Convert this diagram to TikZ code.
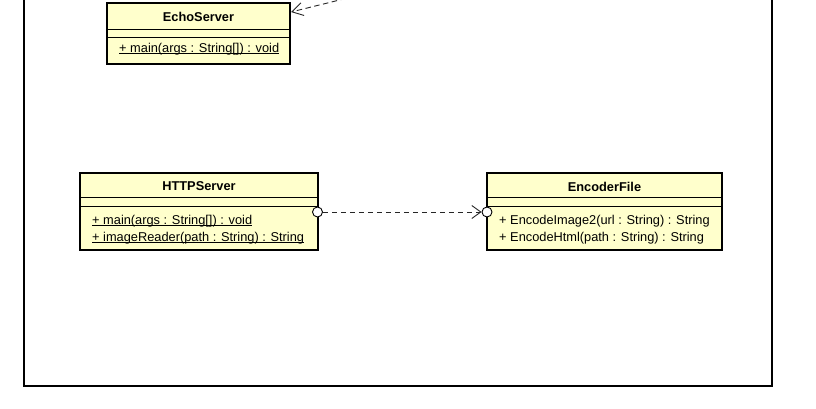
\documentclass[tikz,border=0pt]{standalone}
\usepackage{fontspec}
\setmainfont{Liberation Sans}
\usetikzlibrary{arrows.meta}
\definecolor{classfill}{RGB}{255,255,204}
\newcommand{\ulx}[1]{\setbox0\hbox{#1}\rlap{\rule[-1.4pt]{\wd0}{0.8pt}}\box0}
\tikzset{
  classbox/.style={draw=black, line width=1.6pt, fill=classfill, inner sep=0pt, rectangle},
  sep/.style={draw=black, line width=0.9pt},
  title/.style={font=\fontsize{12.8}{14}\selectfont\bfseries, inner sep=0pt},
  member/.style={font=\fontsize{12.8}{14}\selectfont, inner sep=0pt, anchor=west},
  depline/.style={draw=black!85, line width=0.9pt, dash pattern=on 5.5pt off 3.5pt},
  ball/.style={circle, draw=black, line width=0.9pt, fill=white, minimum size=10pt, inner sep=0pt},
  frame/.style={draw=black, line width=1.2pt}
}
\begin{document}
\begin{tikzpicture}[x=1pt,y=-1pt]
\useasboundingbox (0,0) rectangle (816,408);
\clip (0,0) rectangle (816,408);
% outer frame
\draw[frame] (24,-20) -- (24,386) -- (772,386) -- (772,-20);
% EchoServer
\node[classbox, minimum width=183pt, minimum height=61pt] (echo) at (198.5,33.5) {};
\draw[sep] (107,29) -- (290,29);
\draw[sep] (107,37) -- (290,37);
\node[title] (echoT) at (198.5,16.5) {EchoServer};
\node[member] (echoM) at (119,49.5) {\ulx{+ main(args : String[]) : void}};
% HTTPServer
\node[classbox, minimum width=238pt, minimum height=77pt] (http) at (199,211.5) {};
\draw[sep] (80,197) -- (318,197);
\draw[sep] (80,206) -- (318,206);
\node[title] (httpT) at (199,186.5) {HTTPServer};
\node[member] (httpM1) at (92,221.5) {\ulx{+ main(args : String[]) : void}};
\node[member] (httpM2) at (92,238.5) {\ulx{+ imageReader(path : String) : String}};
% EncoderFile
\node[classbox, minimum width=235pt, minimum height=77pt] (enc) at (604.5,211.5) {};
\draw[sep] (487,197) -- (722,197);
\draw[sep] (487,206) -- (722,206);
\node[title] (encT) at (604.5,186.5) {EncoderFile};
\node[member] (encM1) at (499,221.5) {+ EncodeImage2(url : String) : String};
\node[member] (encM2) at (499,238.5) {+ EncodeHtml(path : String) : String};
% dependency HTTPServer -> EncoderFile
\node[ball] (b1) at (317.5,212) {};
\node[ball] (b2) at (487,212) {};
\draw[depline, -{Straight Barb[length=9pt,width=13pt,line width=0.9pt]}] (b1.east) -- (b2.west);
% dependency to EchoServer from above
\coordinate (echoSrc) at (372,-8);
\coordinate (echoEnd) at (291,12);
\draw[depline, -{Straight Barb[length=11pt,width=13pt,line width=0.9pt]}] (echoSrc) -- (echoEnd);
\end{tikzpicture}
\end{document}
